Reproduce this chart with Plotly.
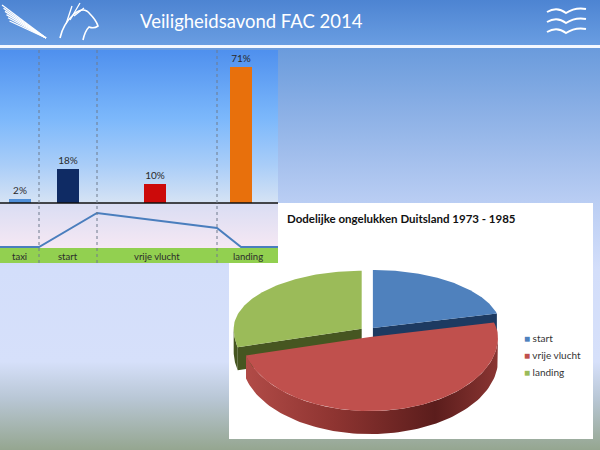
import math
import plotly.graph_objects as go

# ---------------- data ----------------
phases = ["taxi", "start", "vrije vlucht", "landing"]
accident_share = [2, 18, 10, 71]          # % of accidents per flight phase

profile_distance = [0, 39, 97, 217, 241, 278]   # schematic flight profile (along chart width)
profile_altitude = [0, 0, 100, 56, 0, 0]

pie_labels = ["start", "vrije vlucht", "landing"]
pie_values = [21, 50, 29]

slide_title = "Veiligheidsavond FAC 2014"
pie_title = "Dodelijke ongelukken Duitsland 1973 - 1985"

# ---------------- style / layout constants ----------------
W, H = 600, 450
FONT = "Lato"
bar_colors = ["#4f8fd8", "#0f2b64", "#cc0a0a", "#e8700c"]
pie_colors = ["#4f81bd", "#c0504d", "#9bbb59"]
pie_cut_colors = ["#1d3a61", "#7a2826", "#465621"]
phase_edges = [0, 39, 97, 217, 278]
bar_slots = [0, 39, 97, 213, 268]
CHART_R = 278
BASE_PY = 203
BAR_TOP_PY = 50
PROFILE_BOTTOM_PY = 248
BAND_BOTTOM_PY = 263

fig = go.Figure()


def band(x0, x1, y0, y1, stops=None, color=None, orient="vertical"):
    kw = dict(x=[x0, x1, x1, x0, x0], y=[y0, y0, y1, y1, y0], mode="lines",
              line=dict(width=0), fill="toself", hoverinfo="skip",
              showlegend=False, xaxis="x", yaxis="y")
    if stops:
        if orient == "vertical":
            kw["fillgradient"] = dict(type="vertical", colorscale=stops, start=y0, stop=y1)
        else:
            kw["fillgradient"] = dict(type="horizontal", colorscale=stops, start=x0, stop=x1)
    else:
        kw["fillcolor"] = color
    fig.add_trace(go.Scatter(**kw))


def poly(pts, color=None, stops=None):
    xs = [p[0] for p in pts] + [pts[0][0]]
    ys = [p[1] for p in pts] + [pts[0][1]]
    kw = dict(x=xs, y=ys, mode="lines", line=dict(width=0), fill="toself",
              hoverinfo="skip", showlegend=False, xaxis="x", yaxis="y")
    if stops:
        kw["fillgradient"] = dict(type="horizontal", colorscale=stops,
                                  start=min(xs), stop=max(xs))
    else:
        kw["fillcolor"] = color
    fig.add_trace(go.Scatter(**kw))


# ---------------- slide background ----------------
band(0, W, 0, 46, stops=[[0, "#4d84d2"], [1, "#6a9ee2"]])
band(0, W, 45, 48, color="#f4f8ff")
band(0, W, 48, H, stops=[[0, "#6a9bdc"], [0.38, "#b9cdf3"], [0.55, "#d3defa"],
                         [0.78, "#d6e0fa"], [0.87, "#b9c7d6"], [1, "#95a690"]])

# pie panel
band(229, 593, 203, 439, color="#ffffff")

# ---------------- 3D pie (angles from pie_values) ----------------
CX, CY, A, B_BACK, B_FRONT, DEPTH, EXPL = 368, 332, 128, 58, 74, 23, 8


def ept(cx, cy, t, dy=0):
    r = math.radians(t)
    s = math.sin(r)
    b = B_BACK if s > 0 else B_FRONT
    return (cx + A * math.cos(r), cy - b * s + dy)


def arc(cx, cy, t0, t1, n=90, dy=0):
    return [ept(cx, cy, t0 + (t1 - t0) * k / n, dy) for k in range(n + 1)]


total = float(sum(pie_values))
slices = []
cum = 0.0
for i, v in enumerate(pie_values):
    th0 = 90 - 360 * cum / total
    th1 = th0 - 360 * v / total
    cum += v
    mid = math.radians((th0 + th1) / 2)
    cx = CX + EXPL * math.cos(mid)
    cy = CY - EXPL * 0.65 * math.sin(mid)
    slices.append((i, th0, th1, cx, cy))

red_side = [[0, "#b14b47"], [0.35, "#8e3431"], [0.75, "#5b1d1c"], [1, "#8a3532"]]

# draw back slices (start, landing) first, front slice (vrije vlucht) last
order = [0, 2, 1]
for i in order:
    _, th0, th1, cx, cy = slices[i]
    c = (cx, cy)
    # visible cut faces
    for te, vis in ((th0, math.cos(math.radians(th0)) < -1e-6),
                    (th1, math.cos(math.radians(th1)) > 1e-6)):
        if vis:
            p = ept(cx, cy, te)
            poly([c, p, (p[0], p[1] + DEPTH), (c[0], c[1] + DEPTH)], color=pie_cut_colors[i])
    # visible outer side (front half)
    for k in (-1, 0, 1):
        lo, hi = -180 + 360 * k, 360 * k
        a0, a1 = max(th1, lo), min(th0, hi)
        if a1 - a0 > 0.1:
            top = arc(cx, cy, a0, a1)
            bot = arc(cx, cy, a1, a0, dy=DEPTH)
            if i == 1:
                poly(top + bot, stops=red_side)
            else:
                poly(top + bot, color=pie_cut_colors[i])
    # top face
    poly([c] + arc(cx, cy, th0, th1), color=pie_colors[i])

# ---------------- bar chart panel backgrounds ----------------
band(0, CHART_R, BAR_TOP_PY, BASE_PY,
     stops=[[0, "#4f90ee"], [0.45, "#7cb8fb"], [0.75, "#a9cdf8"], [1, "#d6e3f4"]])
band(0, CHART_R, BASE_PY, PROFILE_BOTTOM_PY, stops=[[0, "#d9ddf3"], [1, "#f6e8f3"]])
band(0, CHART_R, PROFILE_BOTTOM_PY, BAND_BOTTOM_PY, color="#92d050")

# ---------------- bars ----------------
bar_x = [(bar_slots[k] + bar_slots[k + 1]) / 2 for k in range(len(phases))]
ymax = accident_share[3] * (BASE_PY - BAR_TOP_PY) / 136.0
fig.add_trace(go.Bar(
    x=bar_x, y=accident_share, width=22, marker=dict(color=bar_colors, line=dict(width=0)),
    text=[f"{v}%" for v in accident_share], textposition="outside",
    textfont=dict(family=FONT, size=10, color="#2a2a2a"), cliponaxis=False,
    xaxis="x2", yaxis="y2", showlegend=False, hoverinfo="skip"))

# ---------------- flight profile ----------------
fig.add_trace(go.Scatter(
    x=profile_distance, y=profile_altitude, mode="lines",
    line=dict(color="#4a7ebd", width=2), xaxis="x3", yaxis="y3",
    showlegend=False, hoverinfo="skip", cliponaxis=False))

shapes = []
# baseline
shapes.append(dict(type="line", xref="x", yref="y", x0=0, x1=CHART_R, y0=BASE_PY, y1=BASE_PY,
                   line=dict(color="#111111", width=1.5), layer="above"))
# dotted phase separators
for e in phase_edges[1:-1]:
    shapes.append(dict(type="line", xref="x", yref="y", x0=e, x1=e, y0=BAR_TOP_PY, y1=BAND_BOTTOM_PY,
                       line=dict(color="#6f7a8c", width=1, dash="dot"), layer="above"))

# simple logo sketches (decoration)
logo = dict(color="#ffffff", width=1.3)
for k in range(6):
    shapes.append(dict(type="path", xref="x", yref="y",
                       path=f"M{2 + k * 1.5},{5 + k * 3.2} L46,38", line=logo))
shapes.append(dict(type="path", xref="x", yref="y",
                   path="M60,38 Q63,24 74,14 Q84,6 90,14 Q96,20 98,26 Q94,29 89,27 Q85,31 83,40",
                   line=dict(color="#ffffff", width=1.6)))
shapes.append(dict(type="path", xref="x", yref="y", path="M66,24 L72,6 M70,20 L80,3 M74,16 L84,8",
                   line=logo))
for yy in (12, 22, 32):
    shapes.append(dict(type="path", xref="x", yref="y",
                       path=f"M547,{yy} Q557,{yy - 6} 566,{yy + 1} Q575,{yy - 5} 586,{yy - 3}",
                       line=dict(color="#ffffff", width=2)))

annotations = []
annotations.append(dict(text=slide_title, xref="x", yref="y", x=251, y=21, showarrow=False,
                        font=dict(family=FONT, size=18.5, color="#ffffff")))
for k, name in enumerate(phases):
    annotations.append(dict(text=name, xref="x", yref="y",
                            x=(phase_edges[k] + phase_edges[k + 1]) / 2, y=256, showarrow=False,
                            font=dict(family=FONT, size=9.5, color="#2b2b2b")))
annotations.append(dict(text=f"<b>{pie_title}</b>", xref="x", yref="y", x=285, y=218,
                        xanchor="left", showarrow=False,
                        font=dict(family=FONT, size=11.5, color="#111111")))
for k, name in enumerate(pie_labels):
    annotations.append(dict(text=f"<span style='color:{pie_colors[k]}'>■</span> {name}",
                            xref="x", yref="y", x=522, y=338 + 17 * k, xanchor="left",
                            showarrow=False, font=dict(family=FONT, size=10, color="#333333")))

ax_hidden = dict(visible=False, showgrid=False, zeroline=False, fixedrange=True)
fig.update_layout(
    width=W, height=H, margin=dict(l=0, r=0, t=0, b=0),
    paper_bgcolor="#d3defa", plot_bgcolor="rgba(0,0,0,0)",
    xaxis=dict(ax_hidden, domain=[0, 1], range=[0, W]),
    yaxis=dict(ax_hidden, domain=[0, 1], range=[H, 0]),
    xaxis2=dict(ax_hidden, domain=[0, CHART_R / W], range=[0, CHART_R], anchor="y2"),
    yaxis2=dict(ax_hidden, domain=[1 - BASE_PY / H, 1 - BAR_TOP_PY / H], range=[0, ymax], anchor="x2"),
    xaxis3=dict(ax_hidden, domain=[0, CHART_R / W], range=[0, CHART_R], anchor="y3"),
    yaxis3=dict(ax_hidden, domain=[1 - PROFILE_BOTTOM_PY / H, 1 - BASE_PY / H],
                range=[-100 / 34.0, 100 + 10 * 100 / 34.0], anchor="x3"),
    shapes=shapes, annotations=annotations, bargap=0,
)

fig.write_html("out.html", config={"displayModeBar": False},
               post_script="document.body.style.margin='0';document.body.style.overflow='hidden';")
